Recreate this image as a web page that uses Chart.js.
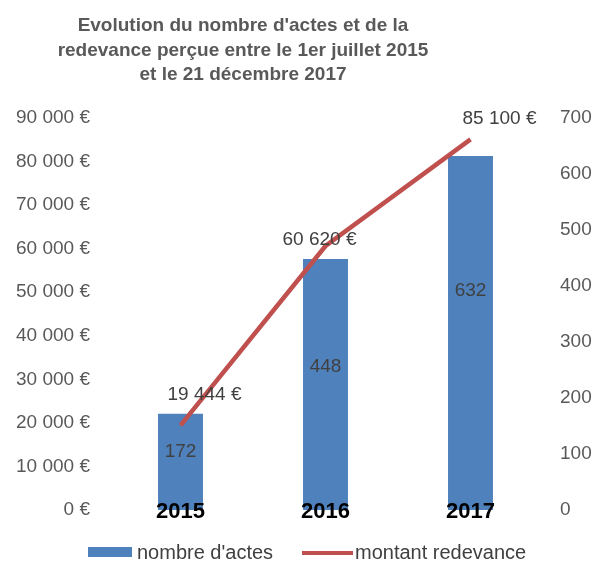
<!DOCTYPE html>
<html>
<head>
<meta charset="utf-8">
<script src="https://cdn.jsdelivr.net/npm/chart.js@4/dist/chart.umd.min.js"></script>
<style>
html,body{margin:0;padding:0;background:#fff;}
#wrap{width:600px;height:562px;position:relative;}
</style>
</head>
<body>
<div id="wrap"><canvas id="c" width="600" height="562"></canvas></div>
<script>
const titleLines = ["Evolution du nombre d'actes et de la", "redevance perçue entre le 1er juillet 2015", "et le 21 décembre 2017"];
const categories = ["2015", "2016", "2017"];
const nombreActes = [172, 448, 632];
const montantRedevance = [19444, 60620, 85100];
const leftTicks = [0, 10000, 20000, 30000, 40000, 50000, 60000, 70000, 80000, 90000];
const rightTicks = [0, 100, 200, 300, 400, 500, 600, 700];

const FONT = "'Liberation Sans', Arial, sans-serif";
const BLUE = '#4F81BD';
const RED = '#C0504D';
const GREY = '#595959';
const DARK = '#404040';

function fmtEuro(v){
  return String(v).replace(/\B(?=(\d{3})+(?!\d))/g, ' ') + ' €';
}

// style-only offsets for the value labels
const lineLabelOffsets = [[24,-31],[-6,-6],[29,-21]];
const barLabelFraction = [0.6, 0.57, 0.62];

const customPlugin = {
  id: 'custom',
  afterDatasetsDraw(chart){
    const ctx = chart.ctx;
    const xs = chart.scales.x, yR = chart.scales.yR, yL = chart.scales.yL;
    ctx.save();
    ctx.font = '19px ' + FONT;
    ctx.fillStyle = DARK;
    ctx.textAlign = 'center';
    ctx.textBaseline = 'middle';
    nombreActes.forEach((v,i)=>{
      ctx.fillText(String(v), xs.getPixelForValue(i), yR.getPixelForValue(v*barLabelFraction[i]));
    });
    montantRedevance.forEach((v,i)=>{
      const o = lineLabelOffsets[i];
      ctx.fillText(fmtEuro(v), xs.getPixelForValue(i)+o[0], yL.getPixelForValue(v)+o[1]);
    });
    ctx.font = 'bold 22px ' + FONT;
    ctx.fillStyle = '#000';
    categories.forEach((c,i)=>{
      ctx.fillText(c, xs.getPixelForValue(i), 512);
    });
    ctx.restore();
  },
  afterDraw(chart){
    const ctx = chart.ctx;
    ctx.save();
    ctx.font = 'bold 19px ' + FONT;
    ctx.fillStyle = GREY;
    ctx.textAlign = 'center';
    ctx.textBaseline = 'middle';
    titleLines.forEach((t,i)=> ctx.fillText(t, 243, 26 + i*24.5));
    ctx.font = '20px ' + FONT;
    ctx.textAlign = 'left';
    const ds = chart.data.datasets;
    ctx.fillStyle = ds[0].backgroundColor;
    ctx.fillRect(88, 547, 44, 10);
    ctx.fillStyle = DARK;
    ctx.fillText(ds[0].label, 137, 553);
    ctx.strokeStyle = ds[1].borderColor;
    ctx.lineWidth = 4;
    ctx.beginPath(); ctx.moveTo(302, 553); ctx.lineTo(353, 553); ctx.stroke();
    ctx.fillText(ds[1].label, 355, 553);
    ctx.restore();
  }
};

new Chart(document.getElementById('c'), {
  data: {
    labels: categories,
    datasets: [
      { type:'bar', label:"nombre d'actes", data: nombreActes, yAxisID:'yR',
        backgroundColor: BLUE, borderWidth:0, barPercentage:0.31, categoryPercentage:1, order:1 },
      { type:'line', label:'montant redevance', data: montantRedevance, yAxisID:'yL',
        borderColor: RED, backgroundColor: RED, borderWidth:4.5, pointRadius:0, tension:0, order:0 }
    ]
  },
  options: {
    responsive:false,
    animation:false,
    layout:{ padding:{ top:118, bottom:52, left:0, right:0 } },
    plugins:{ legend:{display:false}, title:{display:false}, tooltip:{enabled:false} },
    scales:{
      x:{ display:false, offset:true },
      yL:{ position:'left', min:0, max:90000,
        afterBuildTicks(s){ s.ticks = leftTicks.map(v=>({value:v})); },
        afterFit(s){ s.width = 108; },
        grid:{display:false}, border:{display:false},
        ticks:{ padding:10, color:GREY, font:{family:FONT, size:19}, callback:(v)=>fmtEuro(v) } },
      yR:{ position:'right', min:0, max:700,
        afterBuildTicks(s){ s.ticks = rightTicks.map(v=>({value:v})); },
        afterFit(s){ s.width = 57; },
        grid:{display:false}, border:{display:false},
        ticks:{ padding:9, color:GREY, font:{family:FONT, size:19} } }
    }
  },
  plugins:[customPlugin]
});
</script>
</body>
</html>
